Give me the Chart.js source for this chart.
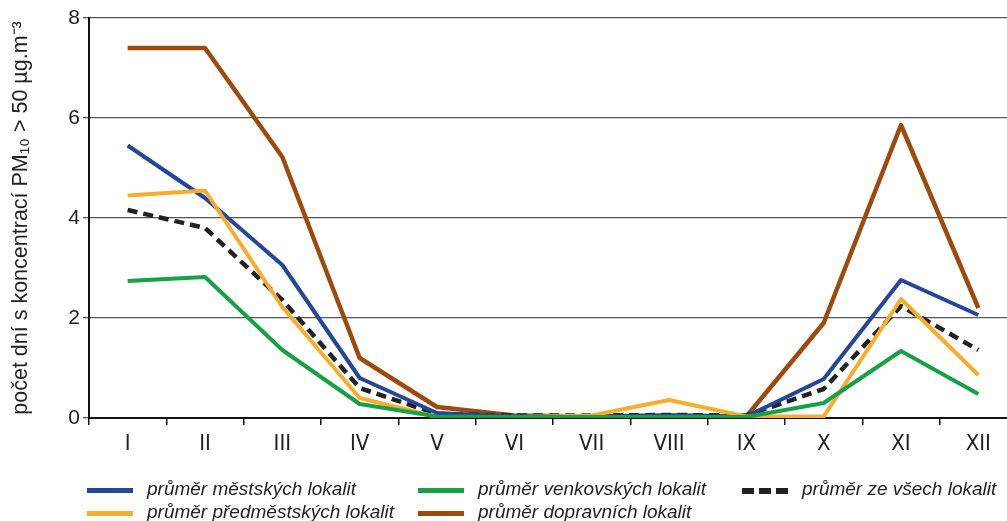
<!DOCTYPE html>
<html><head><meta charset="utf-8">
<script src="https://cdn.jsdelivr.net/npm/chart.js@4/dist/chart.umd.min.js"></script>
<style>
html,body{margin:0;padding:0;background:#fff;overflow:hidden;width:1007px;height:521px;}
#wrap{position:absolute;left:0;top:0;width:1017px;height:521px;}
.lg{position:absolute;font-family:'Liberation Sans',Arial,sans-serif;font-style:italic;font-size:19px;color:#222;white-space:nowrap;line-height:20px;}
.sw{position:absolute;height:5px;width:46px;}
</style></head>
<body>
<div id="wrap"><canvas id="c"></canvas></div>
<div id="legend"></div>
<script>
const categories = ['I','II','III','IV','V','VI','VII','VIII','IX','X','XI','XII'];
const yTicks = [0,2,4,6,8];
const mestske      = [5.45,4.40,3.06,0.80,0.10,0.03,0.03,0.05,0.03,0.78,2.76,2.06];
const predmestske  = [4.45,4.55,2.22,0.40,0.02,0.02,0.05,0.36,0.03,0.03,2.38,0.86];
const venkovske    = [2.74,2.82,1.36,0.28,0.03,0.02,0.02,0.02,0.02,0.30,1.34,0.48];
const dopravni     = [7.40,7.40,5.22,1.20,0.22,0.05,0.03,0.05,0.03,1.90,5.86,2.20];
const vsechny      = [4.16,3.80,2.36,0.60,0.08,0.05,0.05,0.06,0.05,0.58,2.24,1.36];
const labels = ['průměr městských lokalit','průměr předměstských lokalit','průměr venkovských lokalit','průměr dopravních lokalit','průměr ze všech lokalit'];
const colors = ['#24479a','#f6ac2c','#17a146','#9e4a0c','#222222'];

const ds = (data, i, extra) => Object.assign({label: labels[i], data, borderColor: colors[i], backgroundColor: colors[i], borderWidth: 4, pointRadius: 0, tension: 0, borderJoinStyle: 'round', fill: false}, extra||{});

new Chart(document.getElementById('c'), {
  type: 'line',
  data: {
    labels: categories,
    datasets: [
      ds(venkovske, 2),
      ds(predmestske, 1),
      ds(mestske, 0),
      ds(vsechny, 4, {borderDash: [10,6], borderWidth: 4.5, borderCapStyle: 'butt'}),
      ds(dopravni, 3, {borderWidth: 4.5})
    ]
  },
  options: {
    responsive: true, maintainAspectRatio: false, animation: false,
    layout: {padding: {top: 18, right: 0, bottom: 43, left: 0}},
    plugins: {legend: {display: false}, tooltip: {enabled: false}},
    scales: {
      x: {
        offset: true,
        afterFit: s => { s.height = 60; },
        border: {color: '#111', width: 2},
        grid: {display: true, drawOnChartArea: false, drawTicks: true, tickLength: 7, color: '#111', lineWidth: 1.5, offset: true},
        ticks: {color: '#222', padding: 6, font: {family: "'Liberation Sans Narrow','DejaVu Sans Condensed',sans-serif", size: 22}, maxRotation: 0, autoSkip: false}
      },
      y: {
        min: 0, max: 8,
        afterFit: s => { s.width = 89; },
        afterBuildTicks: s => { s.ticks = yTicks.map(v => ({value: v})); },
        border: {color: '#111', width: 2},
        grid: {color: '#555', lineWidth: 1.3, tickLength: 6, drawTicks: true},
        ticks: {color: '#222', padding: 3, font: {family: "'Liberation Sans', Arial, sans-serif", size: 21}},
        title: {display: true, text: 'počet dní s koncentrací PM₁₀ > 50 µg.m⁻³', color: '#222', padding: {top: 8, bottom: 0}, font: {family: "'Liberation Sans', Arial, sans-serif", size: 21.5}}
      }
    }
  }
});

// HTML legend
const legendItems = [
  {i:0, x:87, y:479}, {i:2, x:418, y:479}, {i:4, x:742, y:479},
  {i:1, x:87, y:502}, {i:3, x:418, y:502}
];
const L = document.getElementById('legend');
legendItems.forEach(it => {
  const sw = document.createElement('div');
  sw.className = 'sw';
  sw.style.left = it.x + 'px'; sw.style.top = (it.y + 9) + 'px';
  if (it.i === 4) {
    sw.style.background = 'repeating-linear-gradient(90deg,#222 0 12px,transparent 12px 17px)';
    sw.style.height = '6px';
  } else sw.style.background = colors[it.i];
  L.appendChild(sw);
  const t = document.createElement('div');
  t.className = 'lg';
  t.style.left = (it.x + 60) + 'px'; t.style.top = it.y + 'px';
  t.textContent = labels[it.i];
  L.appendChild(t);
});
</script>
</body></html>
